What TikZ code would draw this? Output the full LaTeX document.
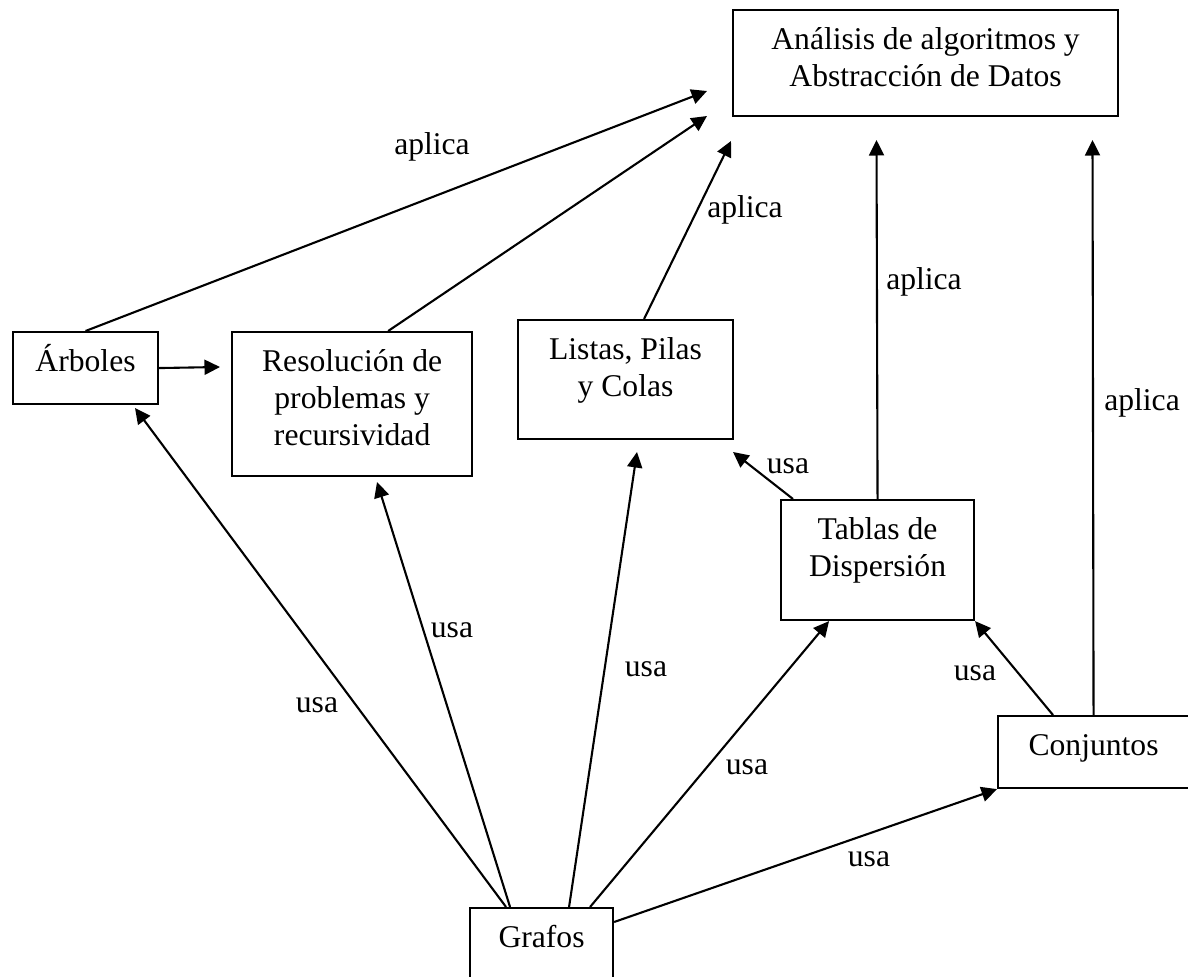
\documentclass[tikz,border=0pt]{standalone}
\usepackage{fontspec}
\setmainfont{Liberation Serif}
\usepackage{tikz}
\usetikzlibrary{arrows.meta}
\usetikzlibrary{calc}
\usetikzlibrary{positioning}
\newcommand{\cajatexto}[3]{\parbox[c][#2][t]{#1}{\centering\rule{0pt}{7.9mm}#3}}

\begin{document}
\begin{tikzpicture}[x=0.2mm, y=-0.2mm, ->, >={Triangle[length=3.1mm,width=3mm]}, line width=0.42mm]
 \tikzstyle{caja}=[draw, -, inner sep=0pt, font=\fontsize{18}{21}\selectfont]
 \tikzstyle{etiqueta}=[anchor=base, inner sep=0pt, font=\fontsize{18}{21}\selectfont]
 \useasboundingbox (0,0) rectangle (1188,977);

 \node[caja, anchor=north west] (analisis) at (732,9) {\cajatexto{77mm}{21.2mm}{Análisis de algoritmos y\\Abstracción de Datos}};
 \node[caja, anchor=north west] (arboles) at (12,331) {\cajatexto{29mm}{14.4mm}{Árboles}};
 \node[caja, right=14.4mm of arboles.north east, anchor=north west] (resolucion) {\cajatexto{48mm}{28.8mm}{Resolución de\\problemas y\\recursividad}};
 \node[caja, anchor=north west] (listas) at (517,319) {\cajatexto{43mm}{23.8mm}{Listas, Pilas\\y Colas}};
 \node[caja, anchor=north west] (tablas) at (780,499) {\cajatexto{38.6mm}{24mm}{Tablas de\\Dispersión}};
 \node[caja, anchor=north west] (conjuntos) at (997,715) {\cajatexto{38.2mm}{14.4mm}{Conjuntos}};
 \node[caja, anchor=north west] (grafos) at (469,907) {\cajatexto{28.6mm}{14.4mm}{Grafos}};

 % puntas libres
 \coordinate (t1) at (707,91);
 \coordinate (t2) at (707,116);
 \coordinate (t3) at (731,141);
 \coordinate (t4) at (876.5,140);
 \coordinate (t5) at (1092.5,140);
 \coordinate (t6) at (220,367);
 \coordinate (t7) at (733,452);
 \coordinate (t8) at (135,408);
 \coordinate (t9) at (377,482);
 \coordinate (t10) at (637,452);

 \draw (arboles.north) -- (t1);
 \draw ([xshift=7.2mm]resolucion.north) -- (t2);
 \draw ([xshift=3.7mm]listas.north) -- (t3);
 \draw (tablas.north) -- (t4);
 \draw (conjuntos.north) -- (t5);
 \draw (arboles.east) -- (t6);
 \draw ([xshift=2.6mm]tablas.north west) -- (t7);
 \draw ([xshift=11.2mm]conjuntos.north west) -- (tablas.south east);
 \draw ([xshift=-7.1mm]grafos.north) -- (t8);
 \draw ([xshift=-6.3mm]grafos.north) -- (t9);
 \draw ([xshift=5.5mm]grafos.north) -- (t10);
 \draw ([xshift=9.7mm]grafos.north) -- ([xshift=-9.7mm]tablas.south);
 \draw ([yshift=-3mm]grafos.north east) -- (conjuntos.south west);

 \node[etiqueta] (e1) at (432,154) {aplica};
 \node[etiqueta] (e2) at (745,217) {aplica};
 \node[etiqueta] (e3) at (924,289) {aplica};
 \node[etiqueta] (e4) at (1142,410) {aplica};
 \node[etiqueta] (e5) at (788,473) {usa};
 \node[etiqueta] (e6) at (317,712) {usa};
 \node[etiqueta] (e7) at (452,637) {usa};
 \node[etiqueta] (e8) at (646,676) {usa};
 \node[etiqueta] (e9) at (747,774) {usa};
 \node[etiqueta] (e10) at (975,680) {usa};
 \node[etiqueta] (e11) at (869,866) {usa};
\end{tikzpicture}
\end{document}
